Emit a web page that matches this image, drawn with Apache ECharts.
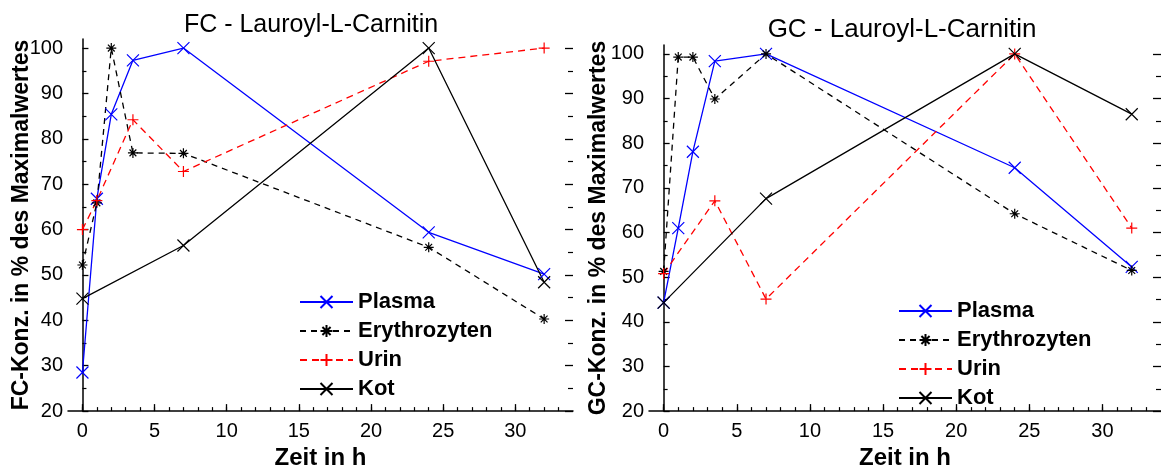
<!DOCTYPE html>
<html>
<head>
<meta charset="utf-8">
<script src="https://cdn.jsdelivr.net/npm/echarts@6/dist/echarts.min.js"></script>
<style>
html,body{margin:0;padding:0;background:#fff;}
#chart{width:1161px;height:475px;}
</style>
</head>
<body>
<div id="chart"></div>
<script>
// ---------- data ----------
const seriesNames = ['Plasma', 'Erythrozyten', 'Urin', 'Kot'];
const xTickLabels = [0, 5, 10, 15, 20, 25, 30];
const yTickLabels = [20, 30, 40, 50, 60, 70, 80, 90, 100];

// FC chart
const fcPlasmaT = [0, 1, 2, 3.5, 7, 24, 32];
const fcPlasmaV = [28.5, 66.8, 85.4, 97.3, 100, 59.4, 50.2];
const fcErythT = [0, 1, 2, 3.5, 7, 24, 32];
const fcErythV = [52.2, 65.9, 100, 76.9, 76.8, 56.1, 40.3];
const fcUrinT = [0, 1, 3.5, 7, 24, 32];
const fcUrinV = [60, 66.4, 84.2, 72.8, 97.1, 100];
const fcKotT = [0, 7, 24, 32];
const fcKotV = [44.8, 56.5, 100, 48.4];

// GC chart
const gcPlasmaT = [0, 1, 2, 3.5, 7, 24, 32];
const gcPlasmaV = [44.3, 61, 78.1, 98.4, 100, 74.5, 52.3];
const gcErythT = [0, 1, 2, 3.5, 7, 24, 32];
const gcErythV = [51.3, 99.3, 99.3, 89.9, 100, 64.2, 51.5];
const gcUrinT = [0, 3.5, 7, 24, 32];
const gcUrinV = [50.8, 67.1, 45.1, 100, 61];
const gcKotT = [0, 7, 24, 32];
const gcKotV = [44.3, 67.6, 100, 86.5];

// ---------- helpers ----------
const FONT = '"Liberation Sans", Arial, sans-serif';
const zip = (t, v) => t.map((x, i) => [x, v[i]]);
const xMinor = []; for (let i = 0; i <= 33; i++) xMinor.push(i);
const yMinor = [25, 35, 45, 55, 65, 75, 85, 95];

const SYM = {
  cross: 'path://M0,0L10,10M10,0L0,10',
  star: 'path://M5,0L5,10M0,5L10,5M1.6,1.6L8.4,8.4M8.4,1.6L1.6,8.4',
  plus: 'path://M5,0L5,10M0,5L10,5'
};
const styles = {
  Plasma: { color: '#0000ff', type: 'solid', sym: SYM.cross, size: 12 },
  Erythrozyten: { color: '#000000', type: [6, 5], sym: SYM.star, size: 10 },
  Urin: { color: '#ff0000', type: [7, 5], sym: SYM.plus, size: 11 },
  Kot: { color: '#000000', type: 'solid', sym: SYM.cross, size: 12 }
};

function mkSeries(name, data, gi) {
  const s = styles[name];
  return {
    type: 'line', name: name, data: data,
    xAxisIndex: gi * 2, yAxisIndex: gi * 4,
    symbol: s.sym, symbolSize: s.size, symbolKeepAspect: true,
    showAllSymbol: true,
    lineStyle: { color: s.color, width: 1.3, type: s.type },
    itemStyle: { color: 'none', borderColor: s.color, borderWidth: 1.2 },
    emphasis: { disabled: true },
    z: 3
  };
}

const grids = [
  { left: 68, top: 39, width: 505, height: 375 },
  { left: 649, top: 45, width: 513, height: 379 }
];
const yNames = ['FC-Konz. in % des Maximalwertes', 'GC-Konz. in % des Maximalwertes'];
const yNameGap = [35, 39];
const xNameGap = [30, 34];

const xAxes = [], yAxes = [];
grids.forEach((g, gi) => {
  xAxes.push({
    type: 'value', gridIndex: gi, position: 'bottom', min: -1, max: 34,
    name: 'Zeit in h', nameLocation: 'middle', nameGap: xNameGap[gi],
    nameTextStyle: { fontFamily: FONT, fontSize: 24, fontWeight: 'bold', color: '#000' },
    axisLine: { show: true, lineStyle: { color: '#000', width: 1.5 } },
    axisTick: { show: true, inside: true, length: 7, customValues: xTickLabels, lineStyle: { color: '#000', width: 1.3 } },
    axisLabel: { customValues: xTickLabels, fontFamily: FONT, fontSize: 20, color: '#000', margin: 10 },
    splitLine: { show: false }
  });
  xAxes.push({
    type: 'value', gridIndex: gi, position: 'bottom', min: -1, max: 34,
    axisLine: { show: false },
    axisTick: { show: true, inside: true, length: 4, customValues: xMinor, lineStyle: { color: '#000', width: 1.2 } },
    axisLabel: { show: false }, splitLine: { show: false }
  });
  yAxes.push({
    type: 'value', gridIndex: gi, position: 'left', min: 20, max: 102,
    name: yNames[gi], nameLocation: 'middle', nameGap: yNameGap[gi],
    nameMoveOverlap: false,
    nameTextStyle: { fontFamily: FONT, fontSize: 23, fontWeight: 'bold', color: '#000' },
    axisLine: { show: true, lineStyle: { color: '#000', width: 1.5 } },
    axisTick: { show: true, inside: true, length: 6, customValues: yTickLabels, lineStyle: { color: '#000', width: 1.3 } },
    axisLabel: { customValues: yTickLabels, fontFamily: FONT, fontSize: 20, color: '#000', margin: 5 },
    splitLine: { show: false }
  });
  yAxes.push({
    type: 'value', gridIndex: gi, position: 'left', min: 20, max: 102,
    axisLine: { show: false },
    axisTick: { show: true, inside: true, length: 4, customValues: yMinor, lineStyle: { color: '#000', width: 1.2 } },
    axisLabel: { show: false }, splitLine: { show: false }
  });
  yAxes.push({
    type: 'value', gridIndex: gi, position: 'right', min: 20, max: 102,
    axisLine: { show: false },
    axisTick: { show: true, inside: true, length: 8, customValues: yTickLabels, lineStyle: { color: '#000', width: 1.3 } },
    axisLabel: { show: false }, splitLine: { show: false }
  });
  yAxes.push({
    type: 'value', gridIndex: gi, position: 'right', min: 20, max: 102,
    axisLine: { show: false },
    axisTick: { show: true, inside: true, length: 5, customValues: yMinor, lineStyle: { color: '#000', width: 1.2 } },
    axisLabel: { show: false }, splitLine: { show: false }
  });
});

const series = [
  mkSeries('Plasma', zip(fcPlasmaT, fcPlasmaV), 0),
  mkSeries('Erythrozyten', zip(fcErythT, fcErythV), 0),
  mkSeries('Urin', zip(fcUrinT, fcUrinV), 0),
  mkSeries('Kot', zip(fcKotT, fcKotV), 0),
  mkSeries('Plasma', zip(gcPlasmaT, gcPlasmaV), 1),
  mkSeries('Erythrozyten', zip(gcErythT, gcErythV), 1),
  mkSeries('Urin', zip(gcUrinT, gcUrinV), 1),
  mkSeries('Kot', zip(gcKotT, gcKotV), 1)
];

const legendBase = {
  orient: 'vertical', itemWidth: 53, itemHeight: 15, itemGap: 5, padding: 0,
  selectedMode: false, data: seriesNames,
  textStyle: { fontFamily: FONT, fontSize: 22, fontWeight: 'bold', color: '#000', lineHeight: 24 }
};

const option = {
  animation: false,
  backgroundColor: '#fff',
  title: [
    { text: 'FC - Lauroyl-L-Carnitin', left: 306, top: 8, textAlign: 'center',
      textStyle: { fontFamily: FONT, fontSize: 25, fontWeight: 'normal', color: '#000' } },
    { text: 'GC - Lauroyl-L-Carnitin', left: 897, top: 12, textAlign: 'center',
      textStyle: { fontFamily: FONT, fontSize: 26, fontWeight: 'normal', color: '#000' } }
  ],
  grid: grids,
  xAxis: xAxes,
  yAxis: yAxes,
  legend: [
    Object.assign({}, legendBase, { left: 299, top: 290 }),
    Object.assign({}, legendBase, { left: 898, top: 299 })
  ],
  series: series
};

const chart = echarts.init(document.getElementById('chart'), null, { renderer: 'canvas' });
chart.setOption(option);
</script>
</body>
</html>
